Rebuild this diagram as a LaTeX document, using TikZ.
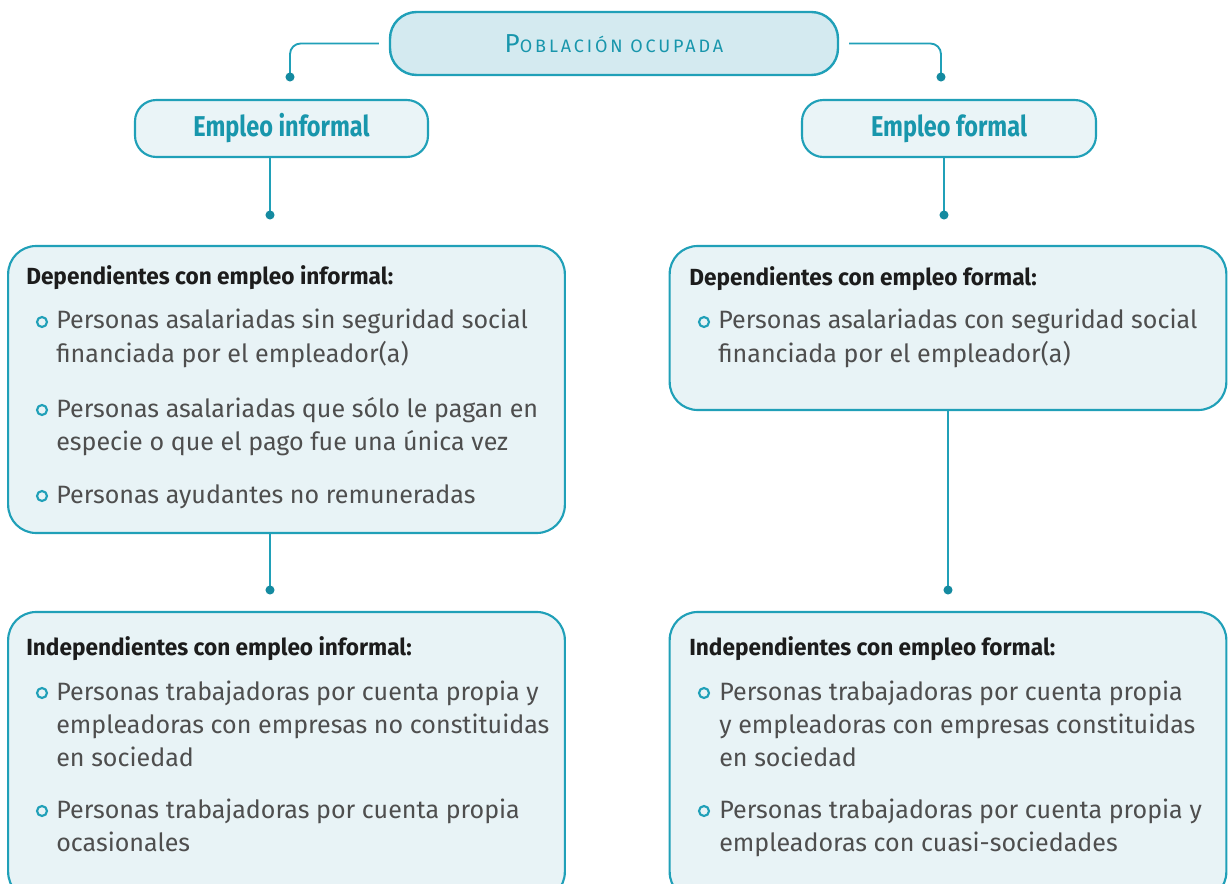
\documentclass[tikz,border=0pt]{standalone}
\usepackage{fontspec}
\setmainfont{Fira Sans}
\newfontfamily\bodyfont{Fira Sans}
\newfontfamily\headfont[FakeStretch=0.97]{Fira Sans Bold}
\newfontfamily\catfont[FakeStretch=0.82]{Fira Sans Bold}
\newfontfamily\titlefont[LetterSpace=16]{Fira Sans}
\usetikzlibrary{calc}
\definecolor{lineC}{RGB}{32,160,184}
\definecolor{dotC}{RGB}{20,138,160}
\definecolor{topfill}{RGB}{212,234,240}
\definecolor{catfill}{RGB}{234,244,247}
\definecolor{panelfill}{RGB}{232,243,246}
\definecolor{titleC}{RGB}{24,150,172}
\definecolor{bodyC}{RGB}{78,78,78}
\definecolor{headC}{RGB}{28,28,28}
\begin{document}
\begin{tikzpicture}[x=0.75pt,y=-0.75pt,
  pill/.style={draw=lineC, line width=1.8pt, fill=topfill, rounded corners=20pt, inner sep=0pt,
    minimum width=336pt, minimum height=47.25pt, text=titleC},
  cat/.style={draw=lineC, line width=1.6pt, fill=catfill, rounded corners=16pt, inner sep=0pt,
    minimum height=42.75pt, text=titleC, font=\catfont\fontsize{21.5}{24}\selectfont},
  panel/.style={draw=lineC, line width=1.6pt, fill=panelfill, rounded corners=21pt, inner sep=0pt,
    minimum width=417.5pt},
  head/.style={anchor=base west, inner sep=0pt, text=headC, font=\headfont\fontsize{17.5}{20}\selectfont},
  txt/.style={anchor=base west, inner sep=0pt, text=bodyC, font=\bodyfont\fontsize{18.8}{22}\selectfont},
  bul/.style={circle, draw=lineC, line width=1.6pt, minimum size=7.5pt, inner sep=0pt},
  conn/.style={draw=lineC, line width=1.4pt},
  dotfill/.style={fill=dotC}
]
\useasboundingbox (0,0) rectangle (1228,884);
\clip (0,0) rectangle (1228,884);

% top
\node[pill] (top) at (614,43.5) {{\titlefont\fontsize{19.5}{22}\selectfont P\fontsize{13.5}{16}\selectfont OBLACIÓN OCUPADA}};
\node[cat, minimum width=219.75pt] (inf) at (281.5,128.5) {Empleo informal};
\node[cat, minimum width=220.5pt] (for) at (949,128.5) {Empleo formal};

% panels
\node[panel, minimum height=215.25pt] (depi) at (286.5,389.5) {};
\node[panel, minimum height=123pt] (depf) at (948,328) {};
\node[panel, minimum height=216pt] (indi) at (286.5,756) {};
\node[panel, minimum height=216pt] (indf) at (948,756) {};

% connectors
\coordinate (d1) at (290,77);
\coordinate (d2) at (941,77);
\coordinate (d3) at (270,215);
\coordinate (d4) at (944,215);
\coordinate (d5) at (270,590);
\coordinate (d6) at (948,590);
\draw[conn, rounded corners=8pt] ([xshift=-7.5pt]top.west) -| (d1);
\draw[conn, rounded corners=8pt] ([xshift=7.5pt]top.east) -| (d2);
\draw[conn] (inf.south -| d3) -- (d3);
\draw[conn] (for.south -| d4) -- (d4);
\draw[conn] (depi.south -| d5) -- (d5);
\draw[conn] (depf.south -| d6) -- (d6);
\foreach \d in {d1,d2,d3,d4,d5,d6} \fill[dotfill] (\d) circle (3.4pt);

% dependientes informal
\node[head] (h1) at (26,285) {Dependientes con empleo informal:};
\node[bul] (b11) at (42,322) {};
\node[txt] (t111) at (56,329) {Personas asalariadas sin seguridad social};
\node[txt] (t112) at (56,362) {financiada por el empleador(a)};
\node[bul] (b12) at (42,410) {};
\node[txt] (t121) at (56,417) {Personas asalariadas que sólo le pagan en};
\node[txt] (t122) at (56,450) {especie o que el pago fue una única vez};
\node[bul] (b13) at (42,496) {};
\node[txt] (t131) at (56,503) {Personas ayudantes no remuneradas};

% dependientes formal
\node[head] (h2) at (689,286) {Dependientes con empleo formal:};
\node[bul] (b21) at (704,322) {};
\node[txt] (t211) at (718,329) {Personas asalariadas con seguridad social};
\node[txt] (t212) at (718,362) {financiada por el empleador(a)};

% independientes informal
\node[head] (h3) at (26,655) {Independientes con empleo informal:};
\node[bul] (b31) at (42,693) {};
\node[txt] (t311) at (56,700) {Personas trabajadoras por cuenta propia y};
\node[txt] (t312) at (56,733) {empleadoras con empresas no constituidas};
\node[txt] (t313) at (56,766) {en sociedad};
\node[bul] (b32) at (42,811) {};
\node[txt] (t321) at (56,818) {Personas trabajadoras por cuenta propia};
\node[txt] (t322) at (56,851) {ocasionales};

% independientes formal
\node[head] (h4) at (689,655) {Independientes con empleo formal:};
\node[bul] (b41) at (704,693) {};
\node[txt] (t411) at (719,700) {Personas trabajadoras por cuenta propia};
\node[txt] (t412) at (719,733) {y empleadoras con empresas constituidas};
\node[txt] (t413) at (719,766) {en sociedad};
\node[bul] (b42) at (704,811) {};
\node[txt] (t421) at (719,818) {Personas trabajadoras por cuenta propia y};
\node[txt] (t422) at (719,851) {empleadoras con cuasi-sociedades};
\end{tikzpicture}
\end{document}
